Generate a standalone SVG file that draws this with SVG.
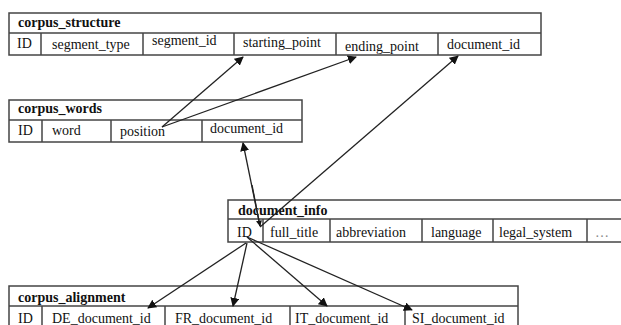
<svg xmlns="http://www.w3.org/2000/svg" width="621" height="325" viewBox="0 0 621 325">
<defs>
<marker id="ah" viewBox="0 0 10 10" refX="9" refY="5" markerWidth="9" markerHeight="9" markerUnits="userSpaceOnUse" orient="auto">
<path d="M0,0 L10,5 L0,10 z" fill="#111"/>
</marker>
<marker id="ahs" viewBox="0 0 10 10" refX="9" refY="5" markerWidth="6" markerHeight="6" markerUnits="userSpaceOnUse" orient="auto">
<path d="M0,0 L10,5 L0,10 z" fill="#111"/>
</marker>
</defs>
<style>
.tb{fill:#fff;stroke:#444;stroke-width:1.5}
.ln{stroke:#444;stroke-width:1.5}
.h{font-family:"Liberation Serif",serif;font-size:14px;font-weight:bold;fill:#111}
.t{font-family:"Liberation Serif",serif;font-size:14px;fill:#111}
.c{stroke:#222;stroke-width:1.3;fill:none;marker-end:url(#ah)}
</style>
<rect width="621" height="325" fill="#fff"/>
<g id="corpus_structure">
<rect class="tb" x="9" y="13" width="532" height="42"/>
<line class="ln" x1="9" y1="33" x2="541" y2="33"/>
<line class="ln" x1="41" y1="33" x2="41" y2="55"/>
<line class="ln" x1="143" y1="33" x2="143" y2="55"/>
<line class="ln" x1="234" y1="33" x2="234" y2="55"/>
<line class="ln" x1="336" y1="33" x2="336" y2="55"/>
<line class="ln" x1="438" y1="33" x2="438" y2="55"/>
<text class="h" x="18" y="27">corpus_structure</text>
<text class="t" x="17" y="48">ID</text>
<text class="t" x="52" y="49">segment_type</text>
<text class="t" x="152" y="45">segment_id</text>
<text class="t" x="243" y="47">starting_point</text>
<text class="t" x="345" y="51">ending_point</text>
<text class="t" x="447" y="49">document_id</text>
</g>
<g id="corpus_words">
<rect class="tb" x="9" y="100" width="293" height="42"/>
<line class="ln" x1="9" y1="120" x2="302" y2="120"/>
<line class="ln" x1="42" y1="120" x2="42" y2="142"/>
<line class="ln" x1="111" y1="120" x2="111" y2="142"/>
<line class="ln" x1="202" y1="120" x2="202" y2="142"/>
<text class="h" x="18" y="113">corpus_words</text>
<text class="t" x="18" y="135">ID</text>
<text class="t" x="52" y="135">word</text>
<text class="t" x="120" y="136">position</text>
<text class="t" x="210" y="133">document_id</text>
</g>
<g id="document_info">
<rect class="tb" x="228" y="200" width="400" height="42"/>
<line class="ln" x1="228" y1="219" x2="628" y2="219"/>
<line class="ln" x1="263" y1="219" x2="263" y2="242"/>
<line class="ln" x1="330" y1="219" x2="330" y2="242"/>
<line class="ln" x1="422" y1="219" x2="422" y2="242"/>
<line class="ln" x1="493" y1="219" x2="493" y2="242"/>
<line class="ln" x1="587" y1="219" x2="587" y2="242"/>
<text class="h" x="238" y="215">document_info</text>
<text class="t" x="237" y="237">ID</text>
<text class="t" x="270" y="237">full_title</text>
<text class="t" x="336" y="237">abbreviation</text>
<text class="t" x="431" y="237">language</text>
<text class="t" x="499" y="237">legal_system</text>
<text class="t" x="595" y="237" fill="#888" style="fill:#888">…</text>
</g>
<g id="corpus_alignment">
<rect class="tb" x="9" y="286" width="509" height="45"/>
<line class="ln" x1="9" y1="306" x2="518" y2="306"/>
<line class="ln" x1="42" y1="306" x2="42" y2="331"/>
<line class="ln" x1="165" y1="306" x2="165" y2="331"/>
<line class="ln" x1="290" y1="306" x2="290" y2="331"/>
<line class="ln" x1="405" y1="306" x2="405" y2="331"/>
<text class="h" x="18" y="302">corpus_alignment</text>
<text class="t" x="18" y="323">ID</text>
<text class="t" x="52" y="323">DE_document_id</text>
<text class="t" x="175" y="323">FR_document_id</text>
<text class="t" x="295" y="323">IT_document_id</text>
<text class="t" x="412" y="323">SI_document_id</text>
</g>
<g id="connectors">
<line class="c" x1="162" y1="127" x2="243" y2="57"/>
<line class="c" x1="162" y1="127" x2="356" y2="57"/>
<line class="c" x1="260" y1="227" x2="458" y2="56"/>
<line class="c" x1="260" y1="226" x2="243" y2="143"/>
<line stroke="#222" stroke-width="1.3" x1="252" y1="185" x2="260" y2="226" marker-end="url(#ahs)"/>
<line class="c" x1="246" y1="243" x2="148" y2="308"/>
<line class="c" x1="247" y1="243" x2="233" y2="306"/>
<line class="c" x1="247" y1="237" x2="327" y2="306"/>
<line class="c" x1="247" y1="237" x2="412" y2="310"/>
</g>
</svg>
